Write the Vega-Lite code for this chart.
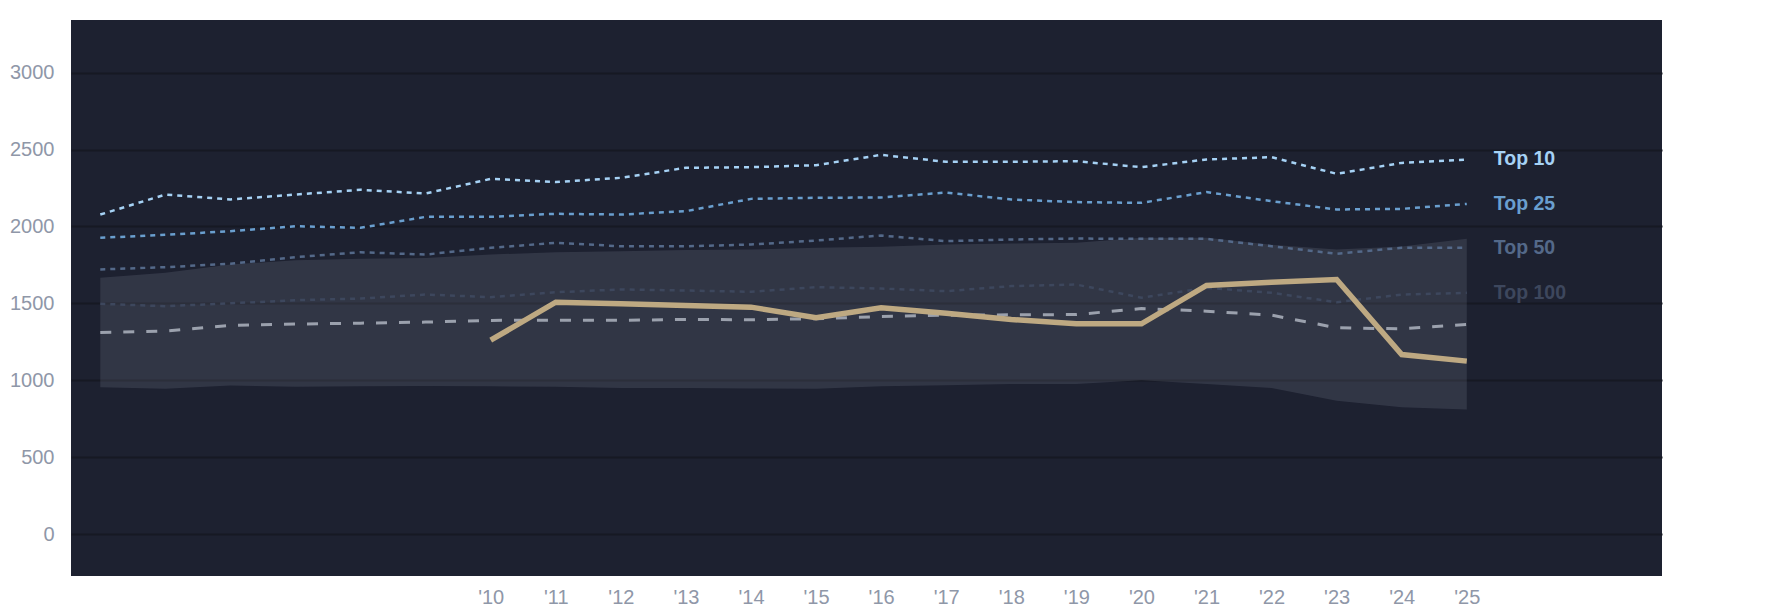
{
  "$schema": "https://vega.github.io/schema/vega-lite/v6.json",
  "width": 1591,
  "height": 556,
  "autosize": "none",
  "padding": {"left": 71, "top": 20, "right": 123, "bottom": 38},
  "background": "#ffffff",
  "datasets": {
    "ranks": [
      {"year": 2004, "Top 10": 2077, "Top 25": 1926, "Top 50": 1720, "Top 100": 1497, "median": 1310, "low": 955, "high": 1666, "gold": null},
      {"year": 2005, "Top 10": 2207, "Top 25": 1945, "Top 50": 1735, "Top 100": 1481, "median": 1319, "low": 944, "high": 1698, "gold": null},
      {"year": 2006, "Top 10": 2175, "Top 25": 1969, "Top 50": 1757, "Top 100": 1500, "median": 1356, "low": 966, "high": 1752, "gold": null},
      {"year": 2007, "Top 10": 2207, "Top 25": 2001, "Top 50": 1800, "Top 100": 1520, "median": 1365, "low": 957, "high": 1780, "gold": null},
      {"year": 2008, "Top 10": 2238, "Top 25": 1991, "Top 50": 1832, "Top 100": 1531, "median": 1371, "low": 960, "high": 1789, "gold": null},
      {"year": 2009, "Top 10": 2214, "Top 25": 2062, "Top 50": 1817, "Top 100": 1557, "median": 1378, "low": 962, "high": 1795, "gold": null},
      {"year": 2010, "Top 10": 2309, "Top 25": 2062, "Top 50": 1861, "Top 100": 1540, "median": 1389, "low": 960, "high": 1817, "gold": 1260},
      {"year": 2011, "Top 10": 2288, "Top 25": 2082, "Top 50": 1893, "Top 100": 1572, "median": 1390, "low": 957, "high": 1832, "gold": 1507},
      {"year": 2012, "Top 10": 2316, "Top 25": 2077, "Top 50": 1871, "Top 100": 1590, "median": 1389, "low": 950, "high": 1839, "gold": 1497},
      {"year": 2013, "Top 10": 2381, "Top 25": 2099, "Top 50": 1871, "Top 100": 1583, "median": 1395, "low": 950, "high": 1846, "gold": 1486},
      {"year": 2014, "Top 10": 2385, "Top 25": 2179, "Top 50": 1882, "Top 100": 1575, "median": 1393, "low": 946, "high": 1850, "gold": 1475},
      {"year": 2015, "Top 10": 2398, "Top 25": 2186, "Top 50": 1908, "Top 100": 1605, "median": 1400, "low": 944, "high": 1861, "gold": 1406},
      {"year": 2016, "Top 10": 2465, "Top 25": 2188, "Top 50": 1941, "Top 100": 1596, "median": 1414, "low": 961, "high": 1867, "gold": 1471},
      {"year": 2017, "Top 10": 2420, "Top 25": 2220, "Top 50": 1904, "Top 100": 1579, "median": 1423, "low": 968, "high": 1882, "gold": 1435},
      {"year": 2018, "Top 10": 2420, "Top 25": 2175, "Top 50": 1915, "Top 100": 1612, "median": 1425, "low": 975, "high": 1889, "gold": 1395},
      {"year": 2019, "Top 10": 2424, "Top 25": 2158, "Top 50": 1921, "Top 100": 1622, "median": 1427, "low": 975, "high": 1893, "gold": 1367},
      {"year": 2020, "Top 10": 2385, "Top 25": 2153, "Top 50": 1919, "Top 100": 1536, "median": 1466, "low": 1000, "high": 1926, "gold": 1367},
      {"year": 2021, "Top 10": 2435, "Top 25": 2223, "Top 50": 1919, "Top 100": 1601, "median": 1449, "low": 975, "high": 1926, "gold": 1616},
      {"year": 2022, "Top 10": 2450, "Top 25": 2164, "Top 50": 1871, "Top 100": 1568, "median": 1423, "low": 950, "high": 1880, "gold": 1637},
      {"year": 2023, "Top 10": 2342, "Top 25": 2110, "Top 50": 1822, "Top 100": 1507, "median": 1341, "low": 867, "high": 1850, "gold": 1655},
      {"year": 2024, "Top 10": 2413, "Top 25": 2114, "Top 50": 1861, "Top 100": 1557, "median": 1334, "low": 824, "high": 1870, "gold": 1167},
      {"year": 2025, "Top 10": 2435, "Top 25": 2146, "Top 50": 1861, "Top 100": 1568, "median": 1362, "low": 809, "high": 1920, "gold": 1124}
    ]
  },
  "data": {"name": "ranks"},
  "encoding": {
    "x": {
      "field": "year",
      "type": "quantitative",
      "scale": {"domain": [2003.55, 2028], "nice": false, "zero": false},
      "axis": {
        "title": null,
        "values": [2010, 2011, 2012, 2013, 2014, 2015, 2016, 2017, 2018, 2019, 2020, 2021, 2022, 2023, 2024, 2025],
        "labelExpr": "\"'\" + substring(toString(datum.value), 2, 4)",
        "grid": false,
        "domain": false,
        "ticks": false,
        "labelPadding": 11,
        "labelFontSize": 20,
        "labelColor": "#8f97a8"
      }
    }
  },
  "layer": [
    {
      "mark": {"type": "area", "color": "#a9adc3", "opacity": 0.15},
      "encoding": {
        "y": {
          "field": "high",
          "type": "quantitative",
          "scale": {"domain": [-273, 3342], "nice": false, "zero": false},
          "axis": {
            "title": null,
            "values": [0, 500, 1000, 1500, 2000, 2500, 3000],
            "format": "d",
            "grid": true,
            "gridColor": "#161923",
            "gridWidth": 2,
            "domain": false,
            "ticks": false,
            "labelPadding": 17,
            "labelFontSize": 20,
            "labelColor": "#8f97a8"
          }
        },
        "y2": {"field": "low"}
      }
    },
    {
      "mark": {"type": "line", "color": "#9ba1ad", "strokeWidth": 3, "strokeDash": [11, 12]},
      "encoding": {"y": {"field": "median", "type": "quantitative"}}
    },
    {
      "transform": [{"fold": ["Top 10", "Top 25", "Top 50", "Top 100"], "as": ["series", "value"]}],
      "mark": {"type": "line", "strokeWidth": 2.5, "strokeDash": [5, 5]},
      "encoding": {
        "y": {"field": "value", "type": "quantitative"},
        "detail": {"field": "series"},
        "color": {
          "field": "series",
          "type": "nominal",
          "scale": {"domain": ["Top 10", "Top 25", "Top 50", "Top 100"], "range": ["#a6d2f5", "#6a9fcf", "#546989", "#3d475d"]},
          "legend": null
        }
      }
    },
    {
      "mark": {"type": "line", "color": "#bea982", "strokeWidth": 5.5},
      "encoding": {"y": {"field": "gold", "type": "quantitative"}}
    },
    {
      "transform": [
        {"filter": "datum.year == 2025"},
        {"fold": ["Top 10", "Top 25", "Top 50", "Top 100"], "as": ["series", "value"]}
      ],
      "mark": {"type": "text", "align": "left", "baseline": "middle", "dx": 27, "fontSize": 19.5, "fontWeight": "bold"},
      "encoding": {
        "y": {"field": "value", "type": "quantitative"},
        "text": {"field": "series"},
        "color": {"field": "series", "type": "nominal", "legend": null}
      }
    }
  ],
  "config": {
    "font": "Liberation Sans",
    "view": {"fill": "#1d2130", "stroke": null}
  }
}
